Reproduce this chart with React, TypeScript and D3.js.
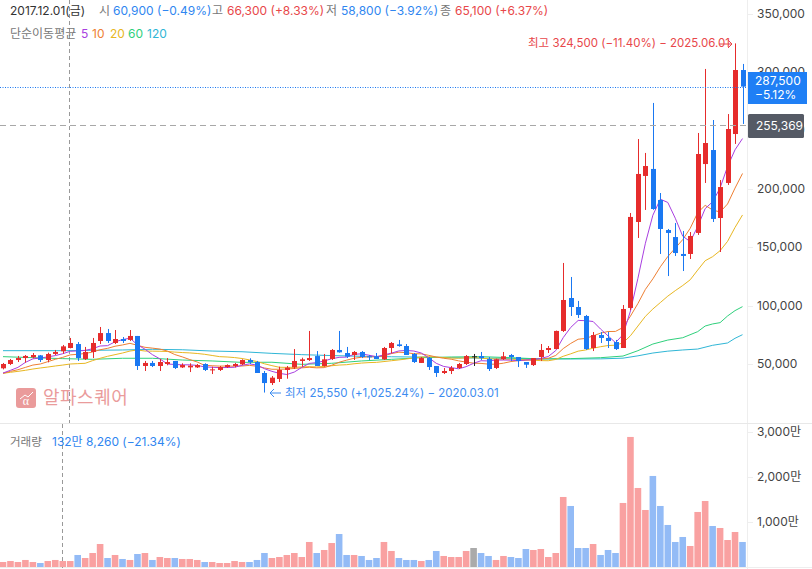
import * as d3 from 'd3';

// monthly candles, 2017.04 ~ 2025.07
const opens = [
  46300, 50000, 53400, 55100, 55700, 57400, 53400, 58600, 60900, 63700,
  67100, 54300, 60300, 69700, 76500, 68000, 71400, 70600, 74000, 48300,
  50900, 48300, 50000, 52600, 47100, 47100, 47100, 50000, 44600, 44900,
  47400, 48300, 49700, 53400, 51700, 42300, 33700, 37200, 44900, 47100,
  52600, 53400, 56800, 48300, 54300, 62000, 59400, 57700, 60300, 56600,
  56600, 54000, 63700, 66800, 65400, 58600, 50900, 55100, 48300, 42300,
  44000, 46600, 50000, 56600, 56800, 54300, 46600, 54300, 57700, 56000,
  51700, 49100, 56000, 62000, 62800, 78300, 106500, 98800, 91100, 63700,
  74800, 72300, 68800, 63700, 98000, 171600, 211000, 217000, 190400, 164700,
  158700, 144200, 144200, 162200, 221200, 233200, 175000, 205000, 246900, 301700,
];
const highs = [
  50900, 54300, 56900, 57700, 59400, 57700, 59700, 62000, 66300, 72300,
  68800, 64600, 72300, 81700, 80000, 79100, 73100, 79100, 74000, 52600,
  52600, 54300, 55100, 52600, 50600, 50600, 50000, 50600, 47700, 48300,
  49700, 50900, 54000, 54900, 52600, 44000, 39700, 47700, 48300, 62800,
  55400, 78300, 61100, 58600, 62800, 78300, 64600, 61100, 61100, 57700,
  59400, 64600, 68800, 70600, 67100, 59400, 56000, 56000, 48300, 46600,
  48300, 50900, 57700, 58600, 60300, 56000, 54600, 60300, 58600, 56000,
  51700, 55100, 67100, 65400, 78600, 136500, 124500, 104000, 92000, 77400,
  77400, 77400, 70600, 100500, 179300, 242600, 230700, 273500, 196400, 165600,
  170700, 163900, 163000, 247800, 302600, 258900, 207500, 264000, 324500, 306900,
];
const lows = [
  45400, 49100, 51700, 51100, 54900, 51700, 51400, 57700, 58800, 63400,
  52600, 53400, 55100, 67100, 68000, 67100, 68000, 69700, 44900, 44000,
  47400, 44000, 48900, 45700, 46600, 43100, 46600, 44000, 41400, 44000,
  46600, 47100, 49100, 50000, 42300, 25550, 32000, 34600, 37400, 45700,
  47700, 52600, 48300, 47700, 53400, 59700, 55100, 53400, 55100, 53400,
  54300, 53400, 59100, 64800, 57700, 50900, 50900, 44900, 38900, 41400,
  41400, 45700, 49100, 48300, 53400, 44000, 45700, 53400, 52600, 47400,
  46600, 48300, 52600, 59400, 62800, 77400, 91100, 89400, 62000, 61100,
  68000, 63700, 62000, 63700, 96200, 157900, 181900, 182000, 144200, 125300,
  142500, 129600, 139900, 160500, 205000, 171600, 145900, 203300, 238400, 255500,
];
const closes = [
  50000, 53400, 55100, 56900, 57700, 53400, 58600, 60300, 65100, 68000,
  55100, 60300, 68000, 76500, 69700, 71400, 69700, 74000, 48300, 50900,
  48300, 51700, 51700, 46600, 49100, 48600, 49100, 44900, 45400, 47400,
  49100, 50000, 53400, 51700, 42300, 33700, 38300, 44900, 46900, 52600,
  54000, 55100, 48300, 54000, 62000, 60000, 56300, 60300, 56000, 55700,
  54300, 63700, 68000, 65400, 57700, 51700, 55100, 47400, 42300, 44000,
  46600, 50000, 56800, 56600, 55100, 45700, 54000, 56600, 56000, 52600,
  49400, 55100, 62000, 63700, 78300, 104800, 98800, 92000, 62800, 74800,
  72300, 69700, 62800, 97100, 175900, 212700, 219500, 182700, 165600, 162200,
  145000, 142500, 159600, 229800, 239200, 174200, 201500, 251200, 301700, 287500,
];
// volume, in 만
const volumes = [
  111, 133, 111, 156, 111, 89, 133, 156, 132.826, 133,
  267, 200, 311, 511, 200, 267, 178, 156, 289, 311,
  156, 222, 200, 200, 178, 178, 156, 111, 111, 89,
  89, 133, 111, 111, 156, 311, 200, 222, 267, 311,
  222, 556, 311, 378, 533, 733, 267, 267, 245, 156,
  200, 556, 356, 200, 156, 156, 133, 156, 356, 245,
  222, 222, 356, 422, 311, 245, 156, 245, 222, 200,
  400, 378, 400, 222, 311, 1556, 1356, 422, 422, 511,
  267, 378, 311, 1423, 2890, 1756, 1267, 2023, 1356, 934,
  556, 667, 467, 1223, 1467, 911, 867, 600, 778, 556,
];

const ma5 = [
  42300, 44600, 47100, 51400, 54400, 55100, 56100, 57200, 58800, 60900,
  61200, 61600, 63100, 65400, 65700, 69000, 70900, 72100, 66400, 62700,
  58000, 54400, 50000, 49600, 49300, 49300, 48800, 47500, 47200, 46900,
  47000, 47200, 48900, 50100, 49100, 46000, 43700, 42000, 41000, 43100,
  47100, 50500, 51200, 52600, 54500, 55700, 55900, 58300, 58700, 57500,
  56300, 57800, 59300, 61200, 61600, 61100, 59400, 55300, 50600, 47900,
  46900, 45900, 47700, 50600, 52800, 52600, 53400, 53400, 53300, 52800,
  53500, 53700, 54800, 56400, 61500, 72600, 81300, 87300, 87100, 86400,
  79900, 74100, 68300, 75100, 95400, 123400, 153400, 177400, 191100, 188300,
  174800, 159400, 154800, 167600, 183000, 188900, 200700, 219000, 233400, 243000,
];
const ma10 = [
  42000, 43700, 45100, 47100, 49100, 50000, 52000, 54000, 55700, 57800,
  58300, 59000, 60300, 62200, 63400, 65200, 66300, 67700, 66000, 64300,
  63600, 62800, 61100, 58100, 56100, 53800, 51700, 48800, 48500, 48200,
  48300, 48100, 48300, 48800, 48100, 46600, 45500, 45500, 45700, 46200,
  46700, 47200, 46700, 46900, 48900, 51500, 53300, 54900, 55800, 56100,
  56100, 57000, 58900, 60100, 59700, 58800, 58700, 57400, 56000, 54900,
  54100, 52700, 51600, 50700, 50500, 49900, 49800, 50700, 52100, 52900,
  53200, 53700, 54200, 54900, 57300, 63200, 67600, 71200, 71900, 74100,
  76400, 77800, 77900, 81300, 91000, 101800, 113900, 122900, 133200, 142000,
  149200, 156500, 166200, 179500, 185800, 181900, 180100, 187000, 200600, 213100,
];
const ma20 = [
  42000, 42900, 43700, 44600, 45700, 46600, 47400, 48300, 49100, 50000,
  50300, 50600, 52900, 54900, 56600, 58000, 59400, 61100, 62000, 61100,
  61000, 60900, 60700, 60200, 59800, 59500, 59000, 58300, 57300, 56300,
  56000, 55500, 54700, 53500, 52100, 50200, 48600, 47200, 47100, 47200,
  47500, 47700, 47500, 47900, 48500, 49100, 49400, 50200, 50800, 51200,
  51400, 52100, 52800, 53500, 54300, 55200, 56000, 56200, 55900, 55500,
  55100, 54900, 55300, 55400, 55100, 54400, 54300, 54100, 54100, 53900,
  53700, 53200, 52900, 52800, 53900, 56600, 58700, 61000, 62000, 63500,
  64800, 65800, 66100, 68100, 74200, 82500, 90800, 97100, 102600, 108100,
  112800, 117200, 122100, 130400, 138400, 141900, 147000, 155000, 166900, 177600,
];
const ma60At = [0, 4, 8, 12, 16, 20, 24, 28, 32, 36, 40, 44, 48, 52, 56, 60, 64, 68, 72, 76, 80, 83, 85, 87, 89, 91, 93, 94, 95, 96, 97, 98, 99];
const ma60 = [
  56300, 55400, 54600, 54000, 54900, 54900, 53400, 52600, 51400, 51500, 49700, 50600, 52600, 54000, 55400, 56000, 56300,
  55400, 54300, 54600, 55400, 56800, 61400, 67100, 70500, 72500, 77700, 82500, 84300, 85400, 91100, 95700, 99100,
];
const ma120At = [0, 4, 8, 12, 16, 20, 24, 28, 32, 36, 40, 44, 48, 52, 56, 60, 64, 68, 72, 76, 80, 83, 85, 87, 89, 91, 93, 95, 97, 98, 99];
const ma120 = [
  61400, 61400, 61400, 61700, 62000, 62600, 62200, 61100, 60500, 59100, 58000, 57200, 56600, 56200, 55900, 55400,
  55000, 54800, 54400, 54300, 54400, 55000, 57000, 59400, 61000, 62000, 62800, 66000, 68000, 72000, 75100,
];

const priceTicks = [50000, 100000, 150000, 200000, 250000, 300000, 350000];
const volumeTicks = [1000, 2000, 3000];
const maColors = { m5: '#a93fe0', m10: '#ee7f33', m20: '#e8b722', m60: '#2fd07c', m120: '#2fb6d6' };
const legend = [
  { label: '5', color: maColors.m5, x: 81 },
  { label: '10', color: maColors.m10, x: 92 },
  { label: '20', color: maColors.m20, x: 110 },
  { label: '60', color: maColors.m60, x: 128 },
  { label: '120', color: maColors.m120, x: 147 },
];
const headerBits = [
  { text: '2017.12.01(금)', x: 10, color: '#333' },
  { text: '시', x: 99, color: '#777' },
  { text: '60,900 (−0.49%)', x: 113, color: '#2f86f0' },
  { text: '고', x: 212, color: '#777' },
  { text: '66,300 (+8.33%)', x: 227, color: '#e8474a' },
  { text: '저', x: 326, color: '#777' },
  { text: '58,800 (−3.92%)', x: 341, color: '#2f86f0' },
  { text: '종', x: 440, color: '#777' },
  { text: '65,100 (+6.37%)', x: 455, color: '#e8474a' },
];

const RED = '#e62c2c';
const BLUE = '#1a78f2';
const FONT = "Inter, 'Noto Sans CJK KR', sans-serif";
const W = 812;
const H = 569;
const axisX = 747;

const x = d3.scaleLinear().domain([0, 99]).range([3, 742.5]);
const y = d3.scaleLinear().domain([0, 350000]).range([422.4, 13.6]);
const yVol = d3.scaleLinear().domain([0, 3000]).range([567, 432]);

function maPath(values: number[], at?: number[]) {
  const pts = values.map((v, i) => [x(at ? at[i] : i), y(v)] as [number, number]);
  return d3.line()(pts) ?? '';
}

export default function App() {
  const mas = [
    { d: maPath(ma120, ma120At), color: maColors.m120 },
    { d: maPath(ma60, ma60At), color: maColors.m60 },
    { d: maPath(ma20), color: maColors.m20 },
    { d: maPath(ma10), color: maColors.m10 },
    { d: maPath(ma5), color: maColors.m5 },
  ];
  return (
    <svg
      width={W}
      height={H}
      viewBox={`0 0 ${W} ${H}`}
      style={{ position: 'fixed', left: 0, top: 0, background: '#fff', fontFamily: FONT }}
    >
      {/* frame */}
      <line x1={axisX + 0.5} x2={axisX + 0.5} y1={0} y2={H} stroke="#eeeeee" />
      <line x1={0} x2={W} y1={423.5} y2={423.5} stroke="#e8e8e8" />
      <line x1={0} x2={W} y1={567.5} y2={567.5} stroke="#eeeeee" />

      {/* watermark */}
      <g opacity={0.55}>
        <rect x={16} y={388} width={20} height={20} rx={3} fill="#d94a4a" />
        <path d="M20 399 L25 395 L28 397 L33 392" fill="none" stroke="#fff" strokeWidth={1} />
        <text x={26} y={405} fontSize={12} fill="#fff" textAnchor="middle" fontFamily="Liberation Serif">α</text>
        <text x={43} y={404} fontSize={18} fill="#d94a4a" letterSpacing={0.5}>알파스퀘어</text>
      </g>

      {/* crosshair */}
      <line x1={69.5} x2={69.5} y1={0} y2={423} stroke="#999" strokeDasharray="4 3" />
      <line x1={62.5} x2={62.5} y1={424} y2={H} stroke="#999" strokeDasharray="4 3" />

      {/* price axis */}
      {priceTicks.map((t) => (
        <g key={t}>
          <line x1={axisX} x2={axisX + 6} y1={Math.round(y(t)) + 0.5} y2={Math.round(y(t)) + 0.5} stroke="#eeeeee" />
          <text x={757} y={y(t) + 4} fontSize={12} fill="#444">
            {d3.format(',')(t)}
          </text>
        </g>
      ))}

      {/* volume */}
      {volumes.map((v, i) => {
        const up = closes[i] > opens[i];
        const flat = closes[i] === opens[i];
        return (
          <rect
            key={i}
            x={x(i) - 3.3}
            y={yVol(v)}
            width={6.6}
            height={yVol(0) - yVol(v)}
            fill={flat ? '#aaaaaa' : up ? '#f9a1a1' : '#93bbf6'}
          />
        );
      })}
      {volumeTicks.map((t) => (
        <g key={t}>
          <line x1={axisX} x2={axisX + 6} y1={yVol(t) + 0.5} y2={yVol(t) + 0.5} stroke="#eeeeee" />
          <text x={757} y={yVol(t) + 4} fontSize={12} fill="#444">
            {d3.format(',')(t)}만
          </text>
        </g>
      ))}

      {/* moving averages */}
      {mas.map((m) => (
        <path key={m.color} d={m.d} fill="none" stroke={m.color} strokeWidth={1} />
      ))}

      {/* candles */}
      {closes.map((c, i) => {
        const o = opens[i];
        const color = c === o ? '#222222' : c > o ? RED : BLUE;
        const top = y(Math.max(o, c));
        const bottom = y(Math.min(o, c));
        const cx = Math.round(x(i)) + 0.5;
        return (
          <g key={i}>
            <line x1={cx} x2={cx} y1={y(highs[i])} y2={y(lows[i])} stroke={color} />
            <rect x={cx - 2.5} y={top} width={5} height={Math.max(1, bottom - top)} fill={color} />
          </g>
        );
      })}

      {/* last price and average price */}
      <line x1={0} x2={axisX} y1={87.5} y2={87.5} stroke={BLUE} strokeDasharray="1 1.5" />
      <line x1={0} x2={axisX} y1={125.5} y2={125.5} stroke="#a8a8a8" strokeDasharray="6 4" />
      <rect x={748} y={72} width={59} height={32} fill="#1f7ff5" />
      <text x={755} y={85} fontSize={12} fill="#fff">287,500</text>
      <text x={755} y={99} fontSize={12} fill="#fff">−5.12%</text>
      <rect x={748} y={114} width={56} height={24} rx={1.5} fill="#555a65" />
      <text x={756} y={130} fontSize={12} fill="#fff">255,369</text>

      {/* high / low notes */}
      <text x={528} y={47} fontSize={11.5} fill="#e8474a">최고 324,500 (−11.40%) − 2025.06.01</text>
      <path d="M719 44 H732 M728 40 L732 44 L728 48" fill="none" stroke="#e8474a" />
      <text x={285} y={397} fontSize={11.5} fill="#3d8cf0">최저 25,550 (+1,025.24%) − 2020.03.01</text>
      <path d="M281 393 H270 M274 389 L270 393 L274 397" fill="none" stroke="#3d8cf0" />

      {/* header */}
      {headerBits.map((b) => (
        <text key={b.x} x={b.x} y={15} fontSize={12} fill={b.color}>
          {b.text}
        </text>
      ))}
      <text x={10} y={38} fontSize={12} fill="#777">단순이동평균</text>
      {legend.map((l) => (
        <text key={l.label} x={l.x} y={38} fontSize={12} fill={l.color}>
          {l.label}
        </text>
      ))}
      <text x={10} y={446} fontSize={11.5} fill="#777">거래량</text>
      <text x={52} y={446} fontSize={12} fill="#2f86f0">132만 8,260 (−21.34%)</text>
    </svg>
  );
}
